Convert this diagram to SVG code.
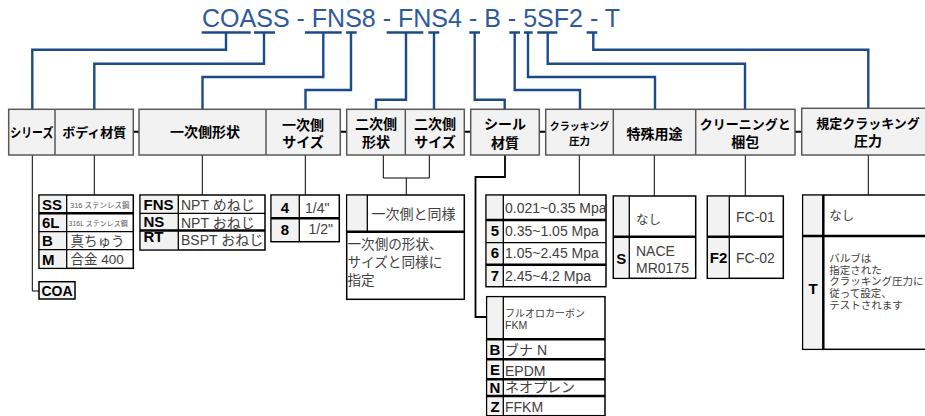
<svg xmlns="http://www.w3.org/2000/svg" width="925" height="416" viewBox="0 0 925 416">
<style>
.title{font-family:"Liberation Sans",Arial,sans-serif;font-size:26px;fill:#2e5a9a}
.bl{fill:none;stroke:#1c4a87;stroke-width:2.4}
.hd{fill:#f2f2f2;stroke:#595959;stroke-width:1.5}
.hdv{stroke:#595959;stroke-width:1.5}
.ht{font-family:"Noto Sans CJK JP",sans-serif;font-weight:bold;font-size:13px;fill:#000;text-anchor:middle}
.k{fill:none;stroke:#000;stroke-width:1}
.dash{stroke:#000;stroke-width:2}
.tb{fill:#fff;stroke:#000;stroke-width:1.5}
.cc{fill:#f2f2f2}
.ln{stroke:#000;stroke-width:1.3}
.th{stroke:#000;stroke-width:2.5}
.cd{font-family:"Liberation Sans",Arial,sans-serif;font-weight:bold;font-size:15px;fill:#000}
.cdm{font-family:"Liberation Sans",Arial,sans-serif;font-weight:bold;font-size:15px;fill:#000;text-anchor:middle}
.tx{font-family:"Liberation Sans","Noto Sans CJK JP",sans-serif;font-size:14px;fill:#404040}
.jp{font-family:"Noto Sans CJK JP",sans-serif;font-size:14px;fill:#404040}
.sm{font-family:"Noto Sans CJK JP",sans-serif;font-size:10.5px;fill:#404040}
</style>
<rect width="925" height="416" fill="#fff"/>
<text id="title" x="202" y="27" class="title" textLength="418" lengthAdjust="spacingAndGlyphs">COASS - FNS8 - FNS4 - B - 5SF2 - T</text>

<g id="connectors">
  <path class="bl" d="M201.7 32.5H250.7 M254 32.5H275 M305 32.5H341.7 M346 32.5H356.7 M386.7 32.5H423.3 M428.3 32.5H439.3 M469.3 32.5H480 M509.3 32.5H520 M524 32.5H532.7 M537.3 32.5H557.3 M586.7 32.5H597.3"/>
  <path class="bl" d="M226 32.5V49.7H32.3V109"/>
  <path class="bl" d="M264 32.5V63.7H94.3V109"/>
  <path class="bl" d="M323.3 32.5V77H202.5V109"/>
  <path class="bl" d="M351 32.5V90H305.5V109"/>
  <path class="bl" d="M406 32.5V99.7H376V109"/>
  <path class="bl" d="M434 32.5V109"/>
  <path class="bl" d="M474.7 32.5V99.7H504.7V109"/>
  <path class="bl" d="M514.7 32.5V90H580V109"/>
  <path class="bl" d="M528 32.5V77H655V109"/>
  <path class="bl" d="M547.7 32.5V63.7H745V109"/>
  <path class="bl" d="M593.3 32.5V49.7H868.3V108"/>
  <path class="dash" d="M133.3 131.7H139 M340.3 131.7H346.7 M464.3 131.7H470.7 M539.3 131.7H545.7 M795 131.7H801.7"/>
  <path class="k" d="M32.3 155V291H39"/>
  <path class="k" d="M94.3 155V195"/>
  <path class="k" d="M202.3 155V195"/>
  <path class="k" d="M305.3 155V195"/>
  <path class="k" d="M383.3 155V178H429.3V155 M406.3 178V195"/>
  <path fill="none" stroke="#000" stroke-width="1.8" d="M505 155V177H475.5V317H487"/>
  <path class="k" d="M579.3 155V195"/>
  <path class="k" d="M654.3 155V196"/>
  <path class="k" d="M745.3 155V196"/>
  <path class="k" d="M868.3 155V195"/>
</g>

<g id="header-series-body">
  <rect class="hd" x="8.7" y="109.3" width="124.6" height="45.7"/>
  <line class="hdv" x1="55" y1="109.3" x2="55" y2="155"/>
  <text class="ht" x="31.8" y="136.5" textLength="43" lengthAdjust="spacingAndGlyphs">シリーズ</text>
  <text class="ht" x="94.2" y="136.5">ボディ材質</text>
</g>
<g id="header-inlet">
  <rect class="hd" x="139" y="109.3" width="201.3" height="45.7"/>
  <line class="hdv" x1="266" y1="109.3" x2="266" y2="155"/>
  <text class="ht" x="205" y="137" style="font-size:14px">一次側形状</text>
  <text class="ht" x="303" y="129.5" style="font-size:14px">一次側</text>
  <text class="ht" x="303" y="147" style="font-size:14px">サイズ</text>
</g>
<g id="header-outlet">
  <rect class="hd" x="346.7" y="109.3" width="117.6" height="45.7"/>
  <line class="hdv" x1="405.3" y1="109.3" x2="405.3" y2="155"/>
  <text class="ht" x="376" y="128.5" style="font-size:14px">二次側</text>
  <text class="ht" x="376" y="147" style="font-size:14px">形状</text>
  <text class="ht" x="435" y="128.5" style="font-size:14px">二次側</text>
  <text class="ht" x="435" y="147" style="font-size:14px">サイズ</text>
</g>
<g id="header-seal">
  <rect class="hd" x="470.7" y="109.3" width="68.6" height="45.7"/>
  <text class="ht" x="505" y="128.5" style="font-size:14px">シール</text>
  <text class="ht" x="505" y="147.5" style="font-size:14px">材質</text>
</g>
<g id="header-options">
  <rect class="hd" x="545.7" y="109.3" width="249.3" height="45.7"/>
  <line class="hdv" x1="613.3" y1="109.3" x2="613.3" y2="155"/>
  <line class="hdv" x1="695.7" y1="109.3" x2="695.7" y2="155"/>
  <text class="ht" x="579.5" y="129.5" style="font-size:10px">クラッキング</text>
  <text class="ht" x="579.5" y="144.5" style="font-size:10.5px">圧力</text>
  <text class="ht" x="654.5" y="138.5" style="font-size:14px">特殊用途</text>
  <text class="ht" x="745.3" y="128.5">クリーニングと</text>
  <text class="ht" x="745.3" y="147" style="font-size:14px">梱包</text>
</g>
<g id="header-set-pressure">
  <rect class="hd" x="801.7" y="108.3" width="130" height="46.7"/>
  <text class="ht" x="868" y="127.5">規定クラッキング</text>
  <text class="ht" x="868" y="145.5" style="font-size:14px">圧力</text>
</g>

<g id="opt-series">
  <rect x="39" y="281.7" width="36" height="17.3" fill="#f2f2f2" stroke="#000" stroke-width="1.5"/>
  <text class="cdm" x="57" y="296" style="font-size:14px">COA</text>
</g>

<g id="opt-body">
  <rect class="tb" x="39" y="195" width="94.3" height="73.3"/>
  <rect class="cc" x="39.8" y="195.8" width="26.9" height="71.7"/>
  <line class="ln" x1="66.7" y1="195" x2="66.7" y2="268.3"/>
  <line class="th" x1="39" y1="213.3" x2="133.3" y2="213.3"/>
  <line class="ln" x1="39" y1="231.7" x2="133.3" y2="231.7"/>
  <line class="ln" x1="39" y1="249.7" x2="133.3" y2="249.7"/>
  <text class="cd" x="42" y="209.5">SS</text>
  <text class="cd" x="42" y="228">6L</text>
  <text class="cd" x="42" y="246">B</text>
  <text class="cd" x="42" y="264.5">M</text>
  <text class="tx" x="70" y="207.5" style="font-size:7.5px;fill:#595959">316 ステンレス鋼</text>
  <text class="tx" x="68.5" y="225.8" style="font-size:7px;fill:#595959">316L ステンレス鋼</text>
  <text class="tx" x="70.5" y="245.5" style="font-size:13.5px">真ちゅう</text>
  <text class="tx" x="70.5" y="264" style="font-size:13.5px">合金 400</text>
</g>

<g id="opt-inlet-shape">
  <rect class="tb" x="140" y="195" width="125" height="55"/>
  <rect class="cc" x="140.8" y="195.8" width="37.5" height="53.4"/>
  <line class="ln" x1="178.3" y1="195" x2="178.3" y2="250"/>
  <line class="ln" x1="140" y1="213.3" x2="265" y2="213.3"/>
  <line class="th" x1="140" y1="230.5" x2="265" y2="230.5"/>
  <text class="cd" x="143.5" y="209.5">FNS</text>
  <text class="cd" x="143.5" y="227">NS</text>
  <text class="cd" x="143.5" y="242">RT</text>
  <text class="tx" x="181" y="209.5">NPT めねじ</text>
  <text class="tx" x="181" y="227.5">NPT おねじ</text>
  <text class="tx" x="181" y="245">BSPT おねじ</text>
</g>

<g id="opt-inlet-size">
  <rect class="tb" x="271" y="195" width="68.3" height="46.7"/>
  <rect class="cc" x="271.8" y="195.8" width="27.5" height="45.1"/>
  <line class="ln" x1="299.3" y1="195" x2="299.3" y2="241.7"/>
  <line class="th" x1="271" y1="218.3" x2="339.3" y2="218.3"/>
  <text class="cdm" x="285" y="212.5">4</text>
  <text class="cdm" x="285" y="235">8</text>
  <text class="tx" x="305" y="212.5">1/4"</text>
  <text class="tx" x="308.5" y="234">1/2"</text>
</g>

<g id="opt-outlet">
  <rect class="tb" x="346.7" y="195" width="117.6" height="104.3"/>
  <rect class="cc" x="347.5" y="195.8" width="19.8" height="35.9"/>
  <line class="ln" x1="367.3" y1="195" x2="367.3" y2="231.7"/>
  <line class="th" x1="346.7" y1="231.7" x2="464.3" y2="231.7"/>
  <text class="jp" x="371.5" y="218.5">一次側と同様</text>
  <text class="jp" x="347.5" y="248.5" style="font-size:13.6px">一次側の形状、</text>
  <text class="jp" x="347.5" y="266.5" style="font-size:13.6px">サイズと同様に</text>
  <text class="jp" x="347.5" y="284.5" style="font-size:13.6px">指定</text>
</g>

<g id="opt-cracking">
  <rect class="tb" x="486" y="195" width="120" height="91.7"/>
  <rect class="cc" x="486.8" y="195.8" width="16.5" height="90.1"/>
  <line class="ln" x1="503.3" y1="195" x2="503.3" y2="286.7"/>
  <line class="th" x1="486" y1="220" x2="606" y2="220"/>
  <line class="ln" x1="486" y1="242.7" x2="606" y2="242.7"/>
  <line class="th" x1="486" y1="264.7" x2="606" y2="264.7"/>
  <text class="cdm" x="495" y="236">5</text>
  <text class="cdm" x="495" y="258">6</text>
  <text class="cdm" x="495" y="281">7</text>
  <text class="tx" x="505" y="213">0.021~0.35 Mpa</text>
  <text class="tx" x="505" y="236">0.35~1.05 Mpa</text>
  <text class="tx" x="505" y="258">1.05~2.45 Mpa</text>
  <text class="tx" x="505" y="281">2.45~4.2 Mpa</text>
</g>

<g id="opt-seal">
  <rect class="tb" x="486.7" y="296.7" width="118.3" height="119"/>
  <rect class="cc" x="487.5" y="297.5" width="15.8" height="117.4"/>
  <line class="ln" x1="503.3" y1="296.7" x2="503.3" y2="415.7"/>
  <line class="th" x1="486.7" y1="339.3" x2="605" y2="339.3"/>
  <line class="th" x1="486.7" y1="359.3" x2="605" y2="359.3"/>
  <line class="th" x1="486.7" y1="379.3" x2="605" y2="379.3"/>
  <line class="th" x1="486.7" y1="396" x2="605" y2="396"/>
  <text class="cdm" x="495" y="355">B</text>
  <text class="cdm" x="495" y="375">E</text>
  <text class="cdm" x="495" y="392.5">N</text>
  <text class="cdm" x="495" y="412">Z</text>
  <text class="jp" x="505" y="316.5" style="font-size:10px">フルオロカーボン</text>
  <text class="tx" x="505" y="329" style="font-size:10.5px">FKM</text>
  <text class="tx" x="505" y="355">ブナ N</text>
  <text class="tx" x="505" y="375.5">EPDM</text>
  <text class="tx" x="505" y="392">ネオプレン</text>
  <text class="tx" x="505" y="412">FFKM</text>
</g>

<g id="opt-special">
  <rect class="tb" x="613.3" y="196" width="82.4" height="82.3"/>
  <rect class="cc" x="614.1" y="196.8" width="15.2" height="80.7"/>
  <line class="ln" x1="629.3" y1="196" x2="629.3" y2="278.3"/>
  <line class="th" x1="613.3" y1="236.7" x2="695.7" y2="236.7"/>
  <text class="jp" x="636" y="224" style="font-size:12.5px">なし</text>
  <text class="cdm" x="621.3" y="264">S</text>
  <text class="tx" x="636" y="255.5">NACE</text>
  <text class="tx" x="636" y="273">MR0175</text>
</g>

<g id="opt-cleaning">
  <rect class="tb" x="707.3" y="196" width="76" height="82.3"/>
  <rect class="cc" x="708.1" y="196.8" width="21.2" height="80.7"/>
  <line class="ln" x1="729.3" y1="196" x2="729.3" y2="278.3"/>
  <line class="th" x1="707.3" y1="236.7" x2="783.3" y2="236.7"/>
  <text class="tx" x="736" y="221.8">FC-01</text>
  <text class="cdm" x="718.5" y="262.8">F2</text>
  <text class="tx" x="736" y="262.8">FC-02</text>
</g>

<g id="opt-set-pressure">
  <rect class="tb" x="802.7" y="195" width="130" height="154.3"/>
  <rect class="cc" x="803.5" y="195.8" width="19.8" height="152.7"/>
  <line class="th" x1="823.3" y1="195" x2="823.3" y2="349.3"/>
  <line class="th" x1="802.7" y1="236" x2="932" y2="236"/>
  <text class="jp" x="829.3" y="220" style="font-size:12.5px">なし</text>
  <text class="cdm" x="813" y="293.5">T</text>
  <text class="sm" x="829.3" y="262">バルブは</text>
  <text class="sm" x="829.3" y="273.7">指定された</text>
  <text class="sm" x="829.3" y="285.4">クラッキング圧力に</text>
  <text class="sm" x="829.3" y="297.1">従って設定、</text>
  <text class="sm" x="829.3" y="308.8">テストされます</text>
</g>
</svg>
